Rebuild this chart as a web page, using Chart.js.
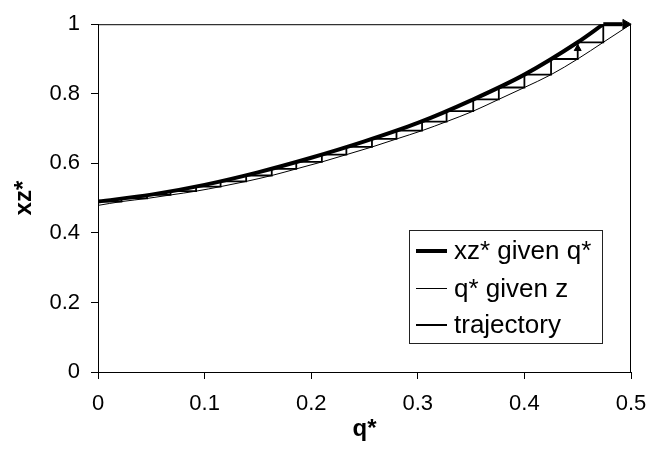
<!DOCTYPE html>
<html>
<head>
<meta charset="utf-8">
<script src="https://cdn.jsdelivr.net/npm/chart.js@4/dist/chart.umd.min.js"></script>
<style>
	html, body { margin: 0; padding: 0; background: #fff; }
	#wrap { width: 661px; height: 460px; }
</style>
</head>
<body>
<div id="wrap"><canvas id="chart-staircase"></canvas></div>
<script>
const X_TICKS = [0, 0.1, 0.2, 0.3, 0.4, 0.5];
const Y_TICKS = [0, 0.2, 0.4, 0.6, 0.8, 1];

// xz* given q* (thick curve), reaches 1 at q* ~ 0.474
const CURVE_Q = [0, 0.05, 0.1, 0.15, 0.2, 0.25, 0.3, 0.35, 0.4, 0.45, 0.474];
const CURVE_XZ = [0.49, 0.51, 0.538, 0.574, 0.616, 0.663, 0.716, 0.781, 0.855, 0.948, 1];

// q* given z (thin curve)
const THIN_Q = [0, 0.022, 0.046, 0.068, 0.092, 0.115, 0.139, 0.163, 0.186, 0.21, 0.233, 0.257, 0.28, 0.304, 0.327, 0.352, 0.376, 0.4, 0.425, 0.45, 0.474, 0.5];
const THIN_XZ = [0.479, 0.49, 0.499, 0.509, 0.52, 0.533, 0.548, 0.565, 0.584, 0.604, 0.625, 0.647, 0.67, 0.694, 0.72, 0.75, 0.784, 0.818, 0.855, 0.9, 0.948, 1];

// staircase corners: q where the trajectory turns up, and the level it reaches
const STEP_Q = [0, 0.022, 0.046, 0.068, 0.092, 0.115, 0.139, 0.163, 0.186, 0.21, 0.233, 0.257, 0.28, 0.304, 0.327, 0.352, 0.376, 0.4, 0.425, 0.45, 0.474];
const STEP_XZ = [0.49, 0.499, 0.509, 0.52, 0.533, 0.548, 0.565, 0.584, 0.604, 0.625, 0.647, 0.67, 0.694, 0.72, 0.75, 0.784, 0.818, 0.855, 0.9, 0.948, 1];
const END_Q = 0.5;

// arrow heads on the trajectory
const ARROW_Q = [0.495, 0.45];
const ARROW_XZ = [1, 0.93];
const ARROW_ROT = [90, 0];

const pts = (xs, ys) => xs.map((x, i) => ({ x, y: ys[i] }));

const trajectory = [{ x: STEP_Q[0], y: STEP_XZ[0] }];
for (let i = 1; i < STEP_Q.length; i++) {
	trajectory.push({ x: STEP_Q[i], y: STEP_XZ[i - 1] });
	trajectory.push({ x: STEP_Q[i], y: STEP_XZ[i] });
}
const LAST = STEP_XZ[STEP_XZ.length - 1];

// plot frame on all four sides
const frame = {
	id: "frame",
	afterDatasetsDraw(chart) {
		const { ctx, chartArea: a } = chart;
		ctx.save();
		ctx.strokeStyle = "#000";
		ctx.lineWidth = 1;
		ctx.strokeRect(a.left + 0.5, a.top + 0.5, a.right - a.left - 1, a.bottom - a.top);
		ctx.restore();
	},
};

// boxed legend inside the plot, bottom right
const boxLegend = {
	id: "boxLegend",
	afterDraw(chart) {
		const { ctx, chartArea: a } = chart;
		const sets = chart.data.datasets.filter((d) => d.label);
		const left = a.right - 222, right = a.right - 29;
		const bottom = a.bottom - 29, top = bottom - 113;
		ctx.save();
		ctx.fillStyle = "#fff";
		ctx.fillRect(left, top, right - left, bottom - top);
		ctx.strokeStyle = "#222";
		ctx.lineWidth = 1;
		ctx.strokeRect(left + 0.5, top + 0.5, right - left, bottom - top);
		ctx.font = "26px 'Liberation Sans', Arial, sans-serif";
		ctx.textBaseline = "middle";
		ctx.fillStyle = "#000";
		sets.forEach((d, i) => {
			const y = top + 21 + i * 37 + (d.legendWidth % 2 ? 0.5 : 0);
			ctx.beginPath();
			ctx.strokeStyle = "#000";
			ctx.lineWidth = d.legendWidth;
			ctx.moveTo(left + 7, y);
			ctx.lineTo(left + 38, y);
			ctx.stroke();
			ctx.fillText(d.label, left + 45, y + 1);
		});
		ctx.restore();
	},
};

const TICK_FONT = { family: "'Liberation Sans', Arial, sans-serif", size: 22 };
const TITLE_FONT = { family: "'Liberation Sans', Arial, sans-serif", size: 24, weight: "bold" };

const DATA = {
	datasets: [
		{
			label: "xz* given q*",
			data: pts(CURVE_Q, CURVE_XZ),
			borderColor: "#000",
			borderWidth: 4,
			legendWidth: 4,
			cubicInterpolationMode: "monotone",
			pointRadius: 0,
			showLine: true,
		},
		{
			label: "q* given z",
			data: pts(THIN_Q, THIN_XZ),
			borderColor: "#000",
			borderWidth: 1,
			legendWidth: 1,
			cubicInterpolationMode: "monotone",
			pointRadius: 0,
			showLine: true,
		},
		{
			label: "trajectory",
			data: trajectory,
			borderColor: "#000",
			borderWidth: 1.8,
			legendWidth: 2,
			tension: 0,
			pointRadius: 0,
			showLine: true,
		},
		{
			// final leg of the trajectory, drawn as an arrow shaft
			data: [{ x: STEP_Q[STEP_Q.length - 1], y: LAST }, { x: END_Q - 0.008, y: LAST }],
			borderColor: "#000",
			borderWidth: 4,
			pointRadius: 0,
			showLine: true,
			clip: false,
		},
		{
			data: pts(ARROW_Q, ARROW_XZ),
			pointStyle: "triangle",
			rotation: ARROW_ROT,
			pointRadius: [5.5, 4],
			backgroundColor: "#000",
			borderColor: "#000",
			borderWidth: 1,
			showLine: false,
			clip: false,
		},
	],
};

const CONFIG = {
	type: "scatter",
	data: DATA,
	options: {
		responsive: true,
		maintainAspectRatio: false,
		animation: false,
		events: [],
		layout: { padding: { top: 16, right: 30, left: 0, bottom: 0 } },
		plugins: {
			legend: { display: false },
			tooltip: { enabled: false },
		},
		scales: {
			x: {
				type: "linear",
				min: 0,
				max: 0.5,
				afterBuildTicks: (s) => { s.ticks = X_TICKS.map((v) => ({ value: v })); },
				afterFit: (s) => { s.height = 88; },
				ticks: {
					color: "#000",
					font: TICK_FONT,
					padding: 12,
					maxRotation: 0,
					callback: (v) => String(v),
				},
				grid: { drawOnChartArea: false, drawTicks: true, tickLength: 7, color: "#000" },
				border: { display: true, color: "#000", width: 1 },
				title: { display: true, text: "q*", color: "#000", font: TITLE_FONT, padding: { top: 4, bottom: 16 } },
			},
			y: {
				type: "linear",
				min: 0,
				max: 1,
				afterBuildTicks: (s) => { s.ticks = Y_TICKS.map((v) => ({ value: v })); },
				afterFit: (s) => { s.width = 98; },
				ticks: {
					color: "#000",
					font: TICK_FONT,
					padding: 11,
					callback: (v) => String(v),
				},
				grid: { drawOnChartArea: false, drawTicks: true, tickLength: 7, color: "#000" },
				border: { display: true, color: "#000", width: 1 },
				title: { display: true, text: "xz*", color: "#000", font: TITLE_FONT, padding: { top: 10, bottom: 4 } },
			},
		},
	},
	plugins: [frame, boxLegend],
};

new Chart(document.getElementById("chart-staircase"), CONFIG);
</script>
</body>
</html>
